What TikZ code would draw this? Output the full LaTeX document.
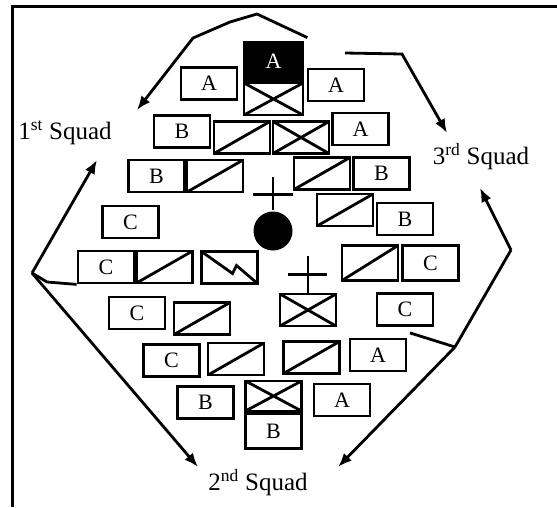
\documentclass[tikz,border=0pt]{standalone}
\usepackage{fontspec}
\setmainfont{Liberation Serif}
\usetikzlibrary{arrows.meta}

\begin{document}
\begin{tikzpicture}[x=1pt, y=-1pt, line width=2.8pt, >={Latex[length=14pt,width=11pt]},
	unitbox/.style={draw, rectangle, minimum width=56pt, minimum height=32pt, inner sep=0pt, font=\fontsize{22}{22}\selectfont},
	slashbox/.style={unitbox, path picture={\draw (path picture bounding box.south west) -- (path picture bounding box.north east);}},
	crossbox/.style={unitbox, path picture={\draw (path picture bounding box.south west) -- (path picture bounding box.north east) (path picture bounding box.north west) -- (path picture bounding box.south east);}},
	boltbox/.style={unitbox, path picture={\draw (path picture bounding box.north west) -- ++(31,22) -- ++(4,-8) -- (path picture bounding box.south east);}},
	leadbox/.style={unitbox, fill=black, text=white, minimum width=59pt, minimum height=39pt},
	squad/.style={font=\fontsize{25}{25}\selectfont}]
					\useasboundingbox (0,0) rectangle (557,507);
					\draw[line width=3pt] (12,507) -- (12,6) -- (557,6);
					
					% point element
					\node[leadbox] (aTop) at (273.5,61.5) {A};
					\node[crossbox, minimum width=59pt] (xTop) at (273.5,99) {};
					\node[unitbox] (aL1) at (209,83.5) {A};
					\node[unitbox] (aR1) at (336,85) {A};
					
					\node[unitbox] (bL1) at (182,131.5) {B};
					\node[slashbox] (sL1) at (242,137.5) {};
					\node[crossbox] (xR1) at (301,137.5) {};
					\node[unitbox] (aR2) at (360.5,129) {A};
					
					\node[unitbox] (bL2) at (156.5,176) {B};
					\node[slashbox] (sL2) at (215,176) {};
					\node[slashbox] (sR2) at (322,173.5) {};
					\node[unitbox] (bR2) at (381.5,173.5) {B};
					
					\node[slashbox] (sR3) at (345,210) {};
					\node[unitbox] (bR3) at (405,219) {B};
					\node[unitbox] (cL3) at (130.5,222) {C};
					
					% leader
					\node[circle, fill=black, minimum size=39pt, inner sep=0pt] (ldr) at (273,231) {};
					\draw (ldr.north) -- ++(0,-33);
					\draw (ldr.north) ++(-20,-16) -- ++(40,0);
					
					\node[unitbox] (cL4) at (106,267) {C};
					\node[slashbox] (sL4) at (164.5,267) {};
					\node[boltbox] (zL4) at (229.5,267.5) {};
					\node[slashbox, minimum height=35pt] (sR4) at (370,263) {};
					\node[unitbox, minimum height=35pt] (cR4) at (430.5,263) {C};
					
					\node[crossbox] (xM5) at (308,310) {};
					\draw (xM5.north) -- ++(0,-37);
					\draw (xM5.north) ++(-20,-18) -- ++(39,0);
					\node[unitbox] (cR5) at (405,309.5) {C};
					\node[unitbox] (cL5) at (137,313) {C};
					\node[slashbox] (sL5) at (202,318.5) {};
					
					\node[unitbox] (cL6) at (171.5,360.5) {C};
					\node[slashbox] (sL6) at (236,359) {};
					\node[slashbox] (sR6) at (311.5,357.5) {};
					\node[unitbox] (aR6) at (378,355) {A};
					
					\node[unitbox] (bL7) at (205.5,402.5) {B};
					\node[crossbox, minimum height=30pt] (xB7) at (273.5,396) {};
					\node[unitbox, minimum height=35pt] (bB8) at (273.5,431) {B};
					\node[unitbox] (aR7) at (342,400) {A};
					
					% squads
					\node[squad] (sq1) at (65,133) {1\textsuperscript{st} Squad};
					\node[squad] (sq3) at (481,157) {3\textsuperscript{rd} Squad};
					\node[squad] (sq2) at (258,483) {2\textsuperscript{nd} Squad};
					
					\coordinate (v1) at (32,273);
					\coordinate (v2) at (511,250);
					\coordinate (j2) at (455,347);
					
					\draw[->] (aTop.north east) ++(3,-3) -- (257,14) -- (230,22) -- (193,38) -- (137,110);
					\draw[->] (345,53) -- (402,54) -- (447,133);
					
					\draw[->] (v1) -- (97,160);
					\draw (v1) -- (47,282) -- (cL4.south west);
					\draw[->] (v1) -- (198,467);
					
					\draw[->] (v2) -- (480,188);
					\draw (v2) -- (j2);
					\draw[->] (j2) -- (338,467);
					\draw (cR5.south) ++(5,6) -- (j2);
				\end{tikzpicture}
\end{document}
